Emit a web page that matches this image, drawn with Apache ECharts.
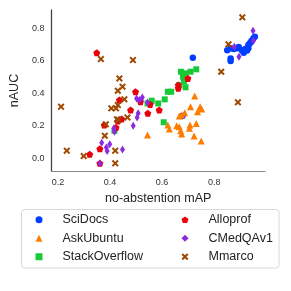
<!DOCTYPE html>
<html><head><meta charset="utf-8">
<script src="https://cdn.jsdelivr.net/npm/echarts@6/dist/echarts.min.js"></script>
<style>html,body{margin:0;padding:0;background:#fff}#c{width:291px;height:291px}</style>
</head><body><div id="c"></div>
<script>
const seriesNames = ['SciDocs','AskUbuntu','StackOverflow','Alloprof','CMedQAv1','Mmarco'];
const xTicks = [0.2,0.4,0.6,0.8];
const yTicks = [0.0,0.2,0.4,0.6,0.8];
const sciDocs = [[0.850,0.666],[0.863,0.677],[0.863,0.615],[0.863,0.599],[0.875,0.673],[0.888,0.677],[0.894,0.685],[0.906,0.666],[0.913,0.650],[0.919,0.673],[0.931,0.677],[0.931,0.697],[0.937,0.708],[0.943,0.722],[0.950,0.738],[0.956,0.748],[0.926,0.663],[0.718,0.619],[0.678,0.260]];
const askUbuntu = [[0.725,0.384],[0.709,0.318],[0.746,0.318],[0.752,0.304],[0.736,0.287],[0.666,0.261],[0.675,0.267],[0.687,0.281],[0.731,0.215],[0.707,0.205],[0.705,0.185],[0.622,0.205],[0.628,0.181],[0.656,0.201],[0.666,0.195],[0.671,0.170],[0.675,0.150],[0.723,0.137],[0.750,0.107],[0.544,0.144]];
const stackOverflow = [[0.672,0.533],[0.690,0.523],[0.709,0.533],[0.731,0.548],[0.680,0.503],[0.684,0.472],[0.666,0.451],[0.690,0.437],[0.622,0.410],[0.635,0.410],[0.610,0.363],[0.585,0.338],[0.560,0.355],[0.544,0.338],[0.606,0.222],[0.417,0.170]];
const alloprof = [[0.349,0.650],[0.699,0.492],[0.662,0.451],[0.662,0.431],[0.589,0.297],[0.545,0.277],[0.554,0.332],[0.498,0.410],[0.517,0.349],[0.479,0.297],[0.436,0.359],[0.445,0.242],[0.430,0.230],[0.423,0.189],[0.378,0.205],[0.361,0.059],[0.322,0.025],[0.361,-0.031]];
const cMedQAv1 = [[0.502,0.369],[0.513,0.359],[0.524,0.375],[0.544,0.343],[0.508,0.277],[0.504,0.252],[0.489,0.201],[0.415,0.185],[0.417,0.164],[0.368,0.096],[0.399,0.086],[0.386,0.066],[0.389,0.045],[0.448,0.055],[0.361,-0.031],[0.949,0.786],[0.951,0.724],[0.877,0.687],[0.895,0.626]];
const mmarco = [[0.908,0.868],[0.855,0.702],[0.827,0.533],[0.891,0.345],[0.212,0.318],[0.234,0.047],[0.299,0.014],[0.365,0.611],[0.488,0.605],[0.436,0.492],[0.430,0.416],[0.448,0.441],[0.455,0.363],[0.405,0.308],[0.423,0.308],[0.430,0.328],[0.384,0.209],[0.380,0.139],[0.427,0.240],[0.432,0.236],[0.467,0.252],[0.420,0.047],[0.420,-0.031]];

const dataSets = [sciDocs, askUbuntu, stackOverflow, alloprof, cMedQAv1, mmarco];
const colors = ['#023eff','#ff7c00','#1ac938','#e8000b','#8b2be2','#9f4800'];
const pentagon = 'path://M0,-1 L0.951,-0.309 L0.588,0.809 L-0.588,0.809 L-0.951,-0.309 Z';
const xMark = 'path://M-1,-0.6 L-0.6,-1 L0,-0.4 L0.6,-1 L1,-0.6 L0.4,0 L1,0.6 L0.6,1 L0,0.4 L-0.6,1 L-1,0.6 L-0.4,0 Z';
const symbols = ['circle','triangle','rect',pentagon,'diamond',xMark];
const sizes = [6.5,7,6,7,[5,8],7];

const font = 'Liberation Sans, Arial, sans-serif';
const chart = echarts.init(document.getElementById('c'), null, {renderer:'canvas'});
const legendCommon = {
  orient:'vertical', itemWidth:7, itemHeight:7, itemGap:4, padding:0,
  textStyle:{fontFamily:font, fontSize:12.5, color:'#222', lineHeight:14.5, padding:[0,0,0,15]},
  selectedMode:false
};
function legendItem(i){
  return {name:seriesNames[i], icon:symbols[i], itemStyle:{color:colors[i], borderWidth:0, opacity:1}};
}
chart.setOption({
  backgroundColor:'#fff',
  animation:false,
  grid:{left:45, right:26, top:10, bottom:120, containLabel:false},
  xAxis:{type:'value', min:0.175, max:0.995,
    name:'no-abstention mAP', nameLocation:'middle', nameGap:16,
    nameTextStyle:{fontFamily:font, fontSize:12.5, color:'#222'},
    axisLine:{show:true, onZero:false, lineStyle:{color:'#888', width:1.2}},
    axisTick:{show:false}, splitLine:{show:false},
    axisLabel:{customValues:xTicks, fontFamily:font, fontSize:9, color:'#333', margin:7,
      formatter:v=>v.toFixed(1)}},
  yAxis:{type:'value', min:-0.078, max:0.913,
    name:'nAUC', nameLocation:'middle', nameGap:22.5, nameRotate:90,
    nameTextStyle:{fontFamily:font, fontSize:12.5, color:'#222'},
    axisLine:{show:true, onZero:false, lineStyle:{color:'#444', width:1.3}},
    axisTick:{show:false}, splitLine:{show:false},
    axisLabel:{customValues:yTicks, fontFamily:font, fontSize:9, color:'#333', margin:7,
      formatter:v=>v.toFixed(1)}},
  legend:[
    Object.assign({left:35.5, top:212.5, data:[0,1,2].map(legendItem)}, legendCommon),
    Object.assign({left:181.5, top:212.5, data:[3,4,5].map(legendItem)}, legendCommon)
  ],
  graphic:[{type:'rect', shape:{x:21.5, y:209.5, width:257.5, height:58.5, r:3}, style:{fill:'none', stroke:'#d8d8d8', lineWidth:1}, z:-1}],
  series: seriesNames.map((n,i)=>({
    name:n, type:'scatter', data:dataSets[i], symbol:symbols[i], symbolSize:sizes[i],
    itemStyle:{color:colors[i], opacity:1}
  }))
});
</script></body></html>
